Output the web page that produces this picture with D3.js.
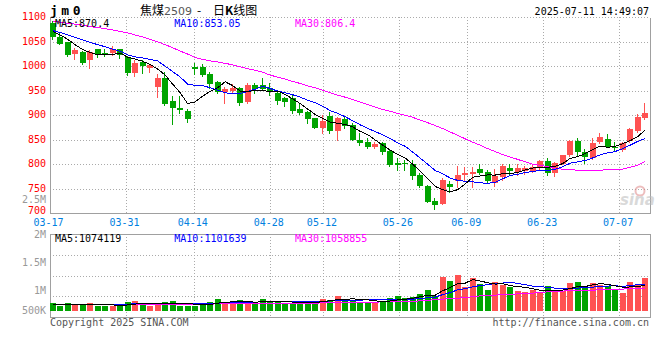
<!DOCTYPE html>
<html>
<head>
<meta charset="utf-8">
<script src="https://cdn.jsdelivr.net/npm/d3@7"></script>
<style>
  body { margin: 0; background: #fff; }
  text { font-family: "DejaVu Sans Mono", monospace; font-size: 10px; }
</style>
</head>
<body>
<div id="chart"></div>
<script>
// trading days 2025-03-17 .. 2025-07-11
const dates = ['03-17','03-18','03-19','03-20','03-21','03-24','03-25','03-26','03-27','03-28','03-31',
  '04-01','04-02','04-03','04-07','04-08','04-09','04-10','04-11','04-14','04-15','04-16','04-17','04-18',
  '04-21','04-22','04-23','04-24','04-25','04-28','04-29','04-30',
  '05-06','05-07','05-08','05-09','05-12','05-13','05-14','05-15','05-16','05-19','05-20','05-21','05-22','05-23',
  '05-26','05-27','05-28','05-29','05-30',
  '06-03','06-04','06-05','06-06','06-09','06-10','06-11','06-12','06-13','06-16','06-17','06-18','06-19','06-20',
  '06-23','06-24','06-25','06-26','06-27','06-30',
  '07-01','07-02','07-03','07-04','07-07','07-08','07-09','07-10','07-11'];

const open  = [1088,1059,1049,1025,1030,1013,1035,1028,1028,1035,1018,987,1009,997,958,976,930,915,909,999,
  999,984,967,948,950,955,928,962,962,955,946,935,936,912,907,894,875,899,868,893,
  880,850,845,836,843,827,803,803,800,778,756,725,719,760,766,778,780,790,784,762,
  774,793,785,787,786,792,807,783,801,819,848,826,812,846,852,836,829,847,868,894];
const high  = [1092,1067,1050,1038,1032,1034,1036,1035,1042,1036,1021,1012,1012,1005,984,989,939,940,913,1006,
  1004,989,971,958,963,958,965,966,977,966,948,938,941,924,909,895,900,906,897,899,
  884,864,853,845,845,829,812,809,809,782,757,731,773,765,796,794,794,801,788,790,
  800,801,800,797,801,809,812,805,820,849,854,831,853,863,862,845,845,875,902,925];
const low   = [1055,1045,1021,1015,1005,997,1019,1020,1023,1016,983,981,987,988,938,922,883,904,887,984,
  980,955,946,926,946,921,926,945,951,941,923,920,904,902,885,874,864,863,850,875,
  849,839,834,834,822,797,788,789,771,754,723,708,718,743,754,768,754,780,763,756,
  768,780,778,780,784,788,778,776,800,816,819,803,810,844,835,829,827,846,866,892];
const close = [1060,1046,1024,1033,1007,1030,1025,1023,1035,1023,986,1007,1000,1002,977,924,915,911,892,995,
  982,964,948,953,956,926,962,954,953,948,930,928,909,905,892,875,889,868,895,879,
  850,844,835,841,826,799,799,800,777,756,724,717,768,754,778,782,785,782,765,776,
  797,786,792,792,795,807,783,803,819,848,825,814,843,856,836,833,843,873,897,905];

const volume = [685000,625000,685000,660000,660000,685000,625000,625000,625000,620000,
  718000,740000,660000,625000,660000,710000,740000,625000,625000,625000,
  685000,718000,790000,710000,710000,770000,685000,685000,790000,740000,
  710000,685000,660000,718000,740000,718000,800000,770000,867000,770000,
  780000,725000,725000,725000,725000,810000,867000,810000,833000,917000,
  1017000,867000,1350000,1240000,1390000,1100000,1317000,1167000,1017000,1225000,
  1142000,1100000,1000000,975000,1017000,960000,1117000,990000,990000,1200000,
  1225000,1117000,1200000,1142000,1117000,1033000,950000,1225000,1167000,1325000];

// moving averages as drawn
const ma5 = [1071,1064,1055,1044,1034,1028,1023.8,1023.6,1024,1027.2,1018.4,1014.8,1010.2,1003.6,994.4,982,963.6,945.8,923.8,927.4,
  939,948.8,956.2,968.4,960.6,949.4,949,950.2,950.2,948.6,949.4,942.6,933.6,924,912.8,901.8,894,885.8,883.8,881.2,
  876.2,867.2,860.6,849.8,839.2,829,820,813,800.2,786.2,771.2,754.8,748.4,743.8,748.2,759.8,773.4,776.2,778.4,778,
  781,781.2,783.2,788.6,792.4,794.4,793.8,796,801.4,812,815.6,821.8,829.8,837.2,834.8,836.4,842.2,848.2,856.4,870.2];
const ma10 = [1073,1069,1064,1059,1054,1049,1044,1040,1035,1030.6,1023.2,1019.3,1016.9,1013.8,1010.8,1000.2,989.2,978,963.7,960.9,
  960.5,956.2,951,946.1,944,944.2,948.9,953.2,959.3,954.6,949.4,945.8,941.9,937.1,930.7,925.6,918.3,909.7,903.9,897,
  889,880.6,873.2,866.8,860.2,852.6,843.6,836.8,825,812.7,800.1,787.4,780.7,772,767.2,765.5,764.1,762.3,761.1,763.1,
  770.4,777.3,779.7,783.5,785.2,787.7,787.5,789.6,795,802.2,805,807.8,812.9,819.3,823.4,826,832,839,846.8,852.5];
const ma30 = [1092,1090,1088,1086,1084,1081,1079,1077,1074,1071,1068,1064,1060,1055,1050,1044,1038,1031,1025,1018,
  1014,1011,1009,1006,1003,999,995,992,988,982,978,974,969,965,960,956,951,946,941,937,
  932,927,922,917,912,908,904,900,896,890,885,879,873,866,859,852,845,839,832,826,
  820,815,810,805,800,798,795,792,790,789,788,788,788,788,789,789,790,794,798,806];

const volMa5 = [660000,660000,660000,660000,663000,663000,663000,651000,644000,636000,643000,666000,673000,673000,681000,679000,679000,672000,672000,665000,
  660000,656000,689000,706000,723000,740000,733000,712000,728000,734000,722000,722000,717000,703000,703000,704000,727000,749000,779000,785000,
  797000,782000,773000,745000,736000,742000,770000,787000,809000,847000,889000,889000,997000,1078000,1173000,1189000,1279000,1243000,1198000,1165000,
  1174000,1130000,1097000,1088000,1047000,1010000,1014000,1012000,1015000,1051000,1104000,1104000,1146000,1177000,1160000,1122000,1088000,1093000,1098000,1140000];
const volMa10 = [655000,655000,655000,655000,655000,656000,657000,658000,659000,660000,663000,674000,672000,668000,668000,671000,682000,682000,682000,683000,
  680000,677000,690000,699000,704000,710000,704000,710000,727000,738000,741000,738000,725000,725000,728000,723000,735000,743000,751000,754000,
  761000,765000,771000,772000,771000,780000,786000,790000,787000,802000,825000,840000,902000,954000,1020000,1049000,1094000,1130000,1148000,1179000,
  1192000,1215000,1180000,1153000,1116000,1102000,1082000,1064000,1062000,1059000,1067000,1069000,1089000,1106000,1116000,1123000,1106000,1130000,1148000,1160000];
const volMa30 = [650000,650000,650000,650000,650000,650000,650000,650000,650000,650000,655000,655000,655000,655000,655000,660000,660000,660000,660000,660000,
  665000,665000,670000,670000,670000,675000,675000,680000,680000,680000,685000,685000,685000,690000,690000,690000,695000,700000,700000,705000,
  710000,710000,715000,715000,720000,720000,725000,730000,735000,745000,760000,775000,790000,800000,810000,830000,850000,870000,880000,890000,
  900000,910000,920000,930000,940000,955000,970000,980000,990000,1000000,1005000,1010000,1015000,1020000,1025000,1030000,1040000,1050000,1055000,1059000];

const priceTicks = [700,750,800,850,900,950,1000,1050,1100];
const dateTicks = ['03-17','03-31','04-14','04-28','05-12','05-26','06-09','06-23','07-07'];
const volTicks = [500000,1000000,1500000,2000000,2500000];
const volTickLabels = ['500K','1M','1.5M','2M','2.5M'];

const RED = '#ff5252', GREEN = '#00a400', GRID = '#aaa', BORDER = '#a0a0a0';

const W = 660, H = 360;
const left = 49.7, right = 649.7;
const top1 = 17.3, bot1 = 213.3;      // price panel
const top2 = 234.3, bot2 = 317.7;     // volume panel

const svg = d3.select('#chart').append('svg').attr('width', W).attr('height', H);

const idx = d3.range(dates.length);
const xBand = d3.scaleBand().domain(idx).range([left, 647.8]).paddingInner(0.25);
const xTick = d3.scaleLinear().domain([0, dates.length - 1]).range([left, right]);
const y = d3.scaleLinear().domain([700, 1100]).range([bot1, top1]);
const yVol = d3.scaleLinear().domain([500000, 1000000]).range([310.7, 290.7]);
// the volume axis labels sit on their own spacing in the original
const yVolLabel = d3.scaleLinear().domain([1000000, 2000000]).range([290.7, 234.3]);

const px = v => Math.round(v) + 0.5;
const cx = i => Math.round(xBand(i)) + 2.5;
const up = i => close[i] >= open[i];

// ---- grid ----
const grid = svg.append('g').attr('stroke', GRID).attr('stroke-dasharray', '1,2').attr('shape-rendering', 'crispEdges');
priceTicks.filter(v => v > 700).forEach(v => {
  grid.append('line').attr('x1', 50).attr('x2', 650).attr('y1', px(y(v))).attr('y2', px(y(v)));
});
dateTicks.slice(1).forEach(d => {
  const xx = px(xTick(dates.indexOf(d)));
  grid.append('line').attr('x1', xx).attr('x2', xx).attr('y1', top1).attr('y2', bot1);
  grid.append('line').attr('x1', xx).attr('x2', xx).attr('y1', top2).attr('y2', bot2);
});
[1, 2, 3].forEach(k => {
  const yy = px(top2 + (bot2 - top2) * k / 4 - 0.5);
  grid.append('line').attr('x1', 50).attr('x2', 650).attr('y1', yy).attr('y2', yy);
});

// ---- borders ----
const bd = svg.append('g').attr('stroke', BORDER).attr('fill', 'none').attr('shape-rendering', 'crispEdges');
bd.append('path').attr('d', `M50.5,${px(top1)}V${px(bot1)}H650.5V${px(top1)}`);
bd.append('rect').attr('x', 50.5).attr('y', px(top2)).attr('width', 600).attr('height', Math.round(bot2 - top2));

// ---- candles ----
const cg = svg.append('g').attr('shape-rendering', 'crispEdges');
cg.selectAll('line.wick').data(idx).enter().append('line')
  .attr('x1', cx).attr('x2', cx)
  .attr('y1', i => Math.round(y(high[i]))).attr('y2', i => Math.round(y(low[i])) + 1)
  .attr('stroke', i => up(i) ? RED : GREEN);
cg.selectAll('rect.body').data(idx).enter().append('rect')
  .attr('x', i => Math.round(xBand(i)))
  .attr('width', 6)
  .attr('y', i => Math.round(y(Math.max(open[i], close[i]))))
  .attr('height', i => Math.max(1, Math.round(y(Math.min(open[i], close[i]))) - Math.round(y(Math.max(open[i], close[i])))))
  .attr('fill', i => up(i) ? RED : GREEN);

// ---- volume bars ----
cg.selectAll('rect.vol').data(idx).enter().append('rect')
  .attr('x', i => Math.round(xBand(i)))
  .attr('width', 6)
  .attr('y', i => Math.round(yVol(volume[i])))
  .attr('height', i => Math.round(yVol(500000)) - Math.round(yVol(volume[i])))
  .attr('fill', i => up(i) ? RED : GREEN);

// ---- MA lines ----
function drawMA(arr, scale, color) {
  const gen = d3.line().x(i => xBand(i) + 3).y(i => scale(arr[i]));
  svg.append('path').datum(idx).attr('d', gen).attr('fill', 'none')
    .attr('stroke', color).attr('stroke-width', 1).attr('shape-rendering', 'crispEdges');
}
drawMA(ma30, y, '#ff00ff');
drawMA(ma10, y, '#0000ff');
drawMA(ma5, y, '#000');
drawMA(volMa30, yVol, '#ff00ff');
drawMA(volMa10, yVol, '#0000ff');
drawMA(volMa5, yVol, '#000');

// ---- axes labels ----
const lab = svg.append('g');
priceTicks.forEach(v => {
  const yy = v === 700 ? y(v) - 2.6 : y(v) - 0.7;
  lab.append('text').attr('x', 46).attr('y', yy).attr('dy', '0.35em')
    .attr('text-anchor', 'end').attr('fill', '#f00').text(v);
});
volTicks.forEach((v, k) => {
  let yy = v === 500000 ? 310.7 : yVolLabel(v);
  if (v === 2500000) yy = 199.5;
  lab.append('text').attr('x', 46).attr('y', yy).attr('dy', '0.35em')
    .attr('text-anchor', 'end').attr('fill', '#999').text(volTickLabels[k]);
});
dateTicks.forEach(d => {
  lab.append('text').attr('x', xTick(dates.indexOf(d)) - 1.2).attr('y', 225.6)
    .attr('text-anchor', 'middle').attr('fill', '#0080e0').text(d);
});

// ---- legends ----
const leg = [['MA5:870.4', '#000', 55], ['MA10:853.05', '#0000ff', 174.3], ['MA30:806.4', '#ff00ff', 295]];
leg.forEach(([t, c, x]) => lab.append('text').attr('x', x).attr('y', 27.3).attr('fill', c).text(t));
const vleg = [['MA5:1074119', '#000', 55], ['MA10:1101639', '#0000ff', 174.3], ['MA30:1058855', '#ff00ff', 295]];
vleg.forEach(([t, c, x]) => lab.append('text').attr('x', x).attr('y', 241.5).attr('fill', c).text(t));

// ---- header ----
svg.append('text').attr('x', 50).attr('y', 15.3).attr('font-weight', 'bold')
  .style('font-size', '13px').style('letter-spacing', '3.5px').text('jm0');
const title = svg.append('text').attr('y', 14.5)
  .style('font-family', '"Noto Sans CJK SC", sans-serif').style('font-size', '12px');
title.append('tspan').attr('x', 140).text('焦煤');
title.append('tspan').attr('x', 164).attr('fill', '#555').style('font-family', '"DejaVu Sans", sans-serif').style('font-size', '11px').text('2509');
title.append('tspan').attr('x', 197).text('-');
title.append('tspan').attr('x', 213).text('日');
title.append('tspan').attr('font-weight', 'bold').text('K');
title.append('tspan').text('线图');
svg.append('text').attr('x', 649).attr('y', 15).attr('text-anchor', 'end').text('2025-07-11 14:49:07');

// ---- footer ----
svg.append('text').attr('x', 50).attr('y', 326).attr('fill', '#555').text('Copyright 2025 SINA.COM');
svg.append('text').attr('x', 649).attr('y', 326).attr('text-anchor', 'end').attr('fill', '#555').text('http://finance.sina.com.cn');

// ---- watermark ----
const wm = svg.append('g').attr('opacity', 0.55);
wm.append('circle').attr('cx', 640).attr('cy', 191).attr('r', 4.5).attr('fill', 'none').attr('stroke', '#e08a8a').attr('stroke-width', 2);
wm.append('text').attr('x', 620).attr('y', 205).style('font-family', '"DejaVu Sans", sans-serif')
  .style('font-size', '15px').style('font-style', 'italic').attr('font-weight', 'bold').attr('fill', '#bbb').text('sina');
</script>
</body>
</html>
